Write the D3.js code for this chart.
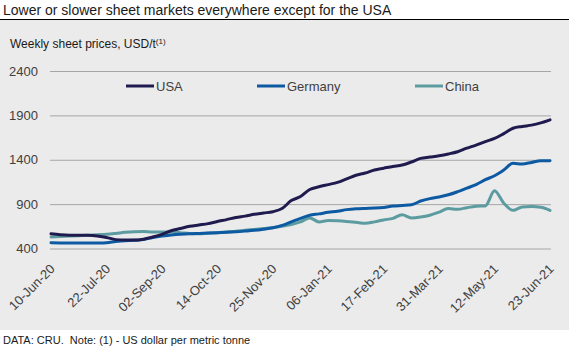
<!DOCTYPE html>
<html>
<head>
<meta charset="utf-8">
<script src="https://cdn.jsdelivr.net/npm/d3@7"></script>
<style>
  html, body { margin: 0; padding: 0; background: #ffffff; }
  svg { display: block; font-family: "Liberation Sans", Arial, sans-serif; }
</style>
</head>
<body>
<svg id="chart" width="569" height="348"></svg>
<script>
// Weekly sheet prices, USD per tonne, one value per week from 10-Jun-20 to 23-Jun-21
const firstWeek = "10-Jun-20";
const tickLabels = ["10-Jun-20", "22-Jul-20", "02-Sep-20", "14-Oct-20", "25-Nov-20",
                    "06-Jan-21", "17-Feb-21", "31-Mar-21", "12-May-21", "23-Jun-21"];
const yTicks = [400, 900, 1400, 1900, 2400];
const seriesNames = ["USA", "Germany", "China"];

const usa = [565, 555, 550, 550, 548, 540, 525, 500, 495, 495,
             505, 530, 560, 600, 625, 650, 665, 680, 705, 725,
             750, 765, 785, 800, 815, 850, 940, 985, 1065, 1095,
             1120, 1145, 1185, 1225, 1250, 1285, 1305, 1325, 1340, 1375,
             1415, 1430, 1445, 1465, 1490, 1530, 1565, 1605, 1640, 1695,
             1755, 1775, 1790, 1815, 1850];
const germany = [465, 463, 462, 461, 461, 462, 465, 478, 488, 492,
                 500, 525, 542, 552, 560, 566, 570, 574, 578, 582,
                 588, 596, 605, 618, 634, 660, 700, 740, 775, 790,
                 808, 820, 838, 848, 852, 855, 862, 878, 885, 892,
                 935, 962, 980, 1005, 1040, 1080, 1120, 1175, 1220, 1285,
                 1360, 1352, 1370, 1388, 1390];
const china = [530, 535, 540, 545, 548, 555, 560, 570, 582, 590,
               592, 585, 585, 585, 578, 568, 565, 572, 578, 585,
               595, 605, 615, 625, 635, 650, 670, 700, 745, 700,
               715, 712, 705, 695, 685, 700, 722, 740, 780, 745,
               755, 775, 810, 850, 842, 860, 875, 880, 1050, 910,
               830, 868, 872, 865, 830];

const colors = ["#1f1b4e", "#0d5aa3", "#5c9ca0"];

const parse = d3.timeParse("%d-%b-%y");
const fmt = d3.timeFormat("%d-%b-%y");
const start = parse(firstWeek);
const dates = usa.map((_, i) => d3.timeWeek.offset(start, i));
const series = [usa, germany, china].map((vals, k) => ({
  name: seriesNames[k],
  color: colors[k],
  values: vals.map((v, i) => ({ date: dates[i], value: v }))
}));

const svg = d3.select("#chart");
const W = 569, H = 348;

// panel background
svg.append("rect").attr("x", 0).attr("y", 20).attr("width", W).attr("height", 310)
  .attr("fill", "#ebebeb");

// heading and rule
svg.append("text").attr("x", 3).attr("y", 15)
  .attr("font-size", 14).attr("fill", "#1a1a1a")
  .text("Lower or slower sheet markets everywhere except for the USA");
svg.append("line").attr("x1", 0).attr("x2", W).attr("y1", 19.5).attr("y2", 19.5)
  .attr("stroke", "#000").attr("stroke-width", 1);

// subtitle with superscript note marker
const sub = svg.append("text").attr("x", 10).attr("y", 47.5)
  .attr("font-size", 12).attr("fill", "#1a1a1a");
sub.append("tspan").text("Weekly sheet prices, USD/t");
sub.append("tspan").attr("font-size", 8).attr("dy", -4).text("(1)");

// footer
svg.append("text").attr("x", 3).attr("y", 344)
  .attr("font-size", 11).attr("fill", "#1a1a1a")
  .style("white-space", "pre")
  .text("DATA: CRU.  Note: (1) - US dollar per metric tonne");

const x = d3.scaleTime().domain([dates[0], dates[dates.length - 1]]).range([51, 550]);
const y = d3.scaleLinear().domain([400, 2400]).range([248.5, 71]);

// y axis with gridlines
const yAxis = svg.append("g").attr("transform", "translate(50,0)")
  .call(d3.axisLeft(y).tickValues(yTicks).tickSize(-501).tickPadding(12).tickFormat(d3.format("d")));
yAxis.select(".domain").remove();
yAxis.selectAll(".tick line").attr("stroke", "#a6a6a6").attr("stroke-width", 1);
yAxis.selectAll(".tick text").attr("font-size", 13).attr("fill", "#404040")
  .attr("font-family", "Liberation Sans, Arial, sans-serif");

// x axis labels, rotated
const tickDates = tickLabels.map(parse);
const xAxis = svg.append("g").attr("transform", "translate(0,248.5)")
  .call(d3.axisBottom(x).tickValues(tickDates).tickSize(0).tickFormat(fmt));
xAxis.select(".domain").remove();
xAxis.selectAll(".tick text")
  .attr("font-size", 13).attr("fill", "#404040")
  .attr("font-family", "Liberation Sans, Arial, sans-serif")
  .attr("text-anchor", "end")
  .attr("dy", null)
  .attr("y", 0)
  .attr("dominant-baseline", "central")
  .attr("transform", "translate(1,18) rotate(-45)");

// lines
const line = d3.line()
  .x(d => x(d.date))
  .y(d => y(d.value))
  .curve(d3.curveMonotoneX);

svg.append("g").selectAll("path")
  .data(series.slice().reverse())
  .join("path")
  .attr("d", d => line(d.values))
  .attr("fill", "none")
  .attr("stroke", d => d.color)
  .attr("stroke-width", 3)
  .attr("stroke-linejoin", "round")
  .attr("stroke-linecap", "round");

// legend
const legendX = [126, 257, 415];
const legend = svg.append("g").selectAll("g")
  .data(series)
  .join("g")
  .attr("transform", (d, i) => `translate(${legendX[i]},86)`);
legend.append("line").attr("x1", 0).attr("x2", 28).attr("y1", 0).attr("y2", 0)
  .attr("stroke", d => d.color).attr("stroke-width", 3);
legend.append("text").attr("x", 30).attr("y", 0).attr("dominant-baseline", "central")
  .attr("font-size", 13).attr("fill", "#404040")
  .text(d => d.name);
</script>
</body>
</html>
